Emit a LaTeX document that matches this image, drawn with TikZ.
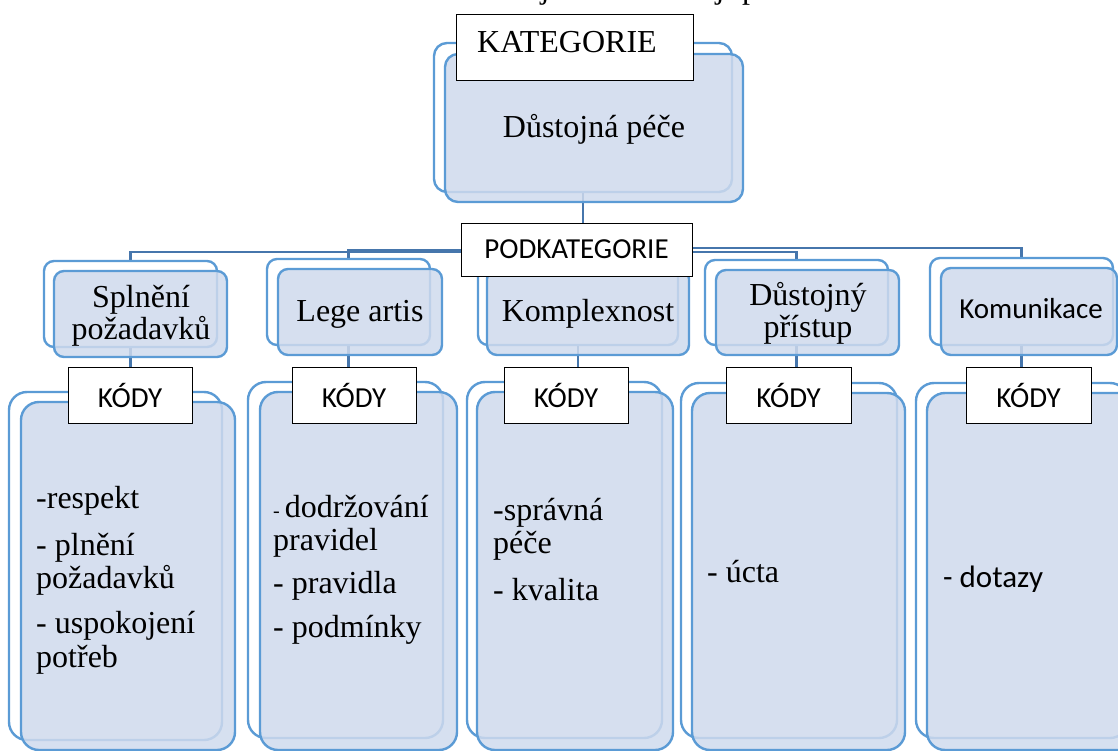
\documentclass[tikz,border=0pt]{standalone}
\usepackage{fontspec}
\setmainfont{Liberation Serif}
\newfontfamily\calfont{Carlito}
\usetikzlibrary{fit}

\pgfdeclarelayer{links}
\pgfsetlayers{links,main}

\definecolor{boxline}{RGB}{91,155,213}
\definecolor{boxfill}{RGB}{207,218,237}
\definecolor{linkline}{RGB}{70,118,172}

\tikzset{
  backbox/.style={draw=boxline, line width=2.4pt, fill=white, rounded corners=#1, inner sep=0pt},
  backbox/.default=10pt,
  frontbox/.style={draw=boxline, line width=2.4pt, fill=boxfill, fill opacity=0.85,
                   text opacity=1, rounded corners=#1, inner sep=0pt},
  frontbox/.default=10pt,
  tagbox/.style={draw=black, line width=0.9pt, fill=white, inner sep=0pt},
  link/.style={draw=linkline, line width=2.4pt},
  serif/.style={font=\fontsize{32}{34}\selectfont, inner sep=0pt},
  sans/.style={font=\calfont\fontsize{29}{31}\selectfont, inner sep=0pt},
}

\begin{document}
\begin{tikzpicture}[x=1pt, y=-1pt]
\useasboundingbox (0,0) rectangle (1118,751);
\begin{scope}
\clip (0,0) rectangle (1118,751);

% tails of the caption line above the chart
\node[serif, anchor=base] (capA) at (545,-1) {j};
\node[serif, anchor=base] (capB) at (720,-1) {j};
\node[serif, anchor=base] (capC) at (750,-1) {p};

% ---------- back layers ----------
\node[backbox=13pt, fit={(434,43) (732,192)}] (catB) {};

\node[backbox, fit={(44,261) (217,347)}]   (b1) {};
\node[backbox, fit={(267,259) (430,345)}]  (b2) {};
\node[backbox, fit={(478,259) (678,345)}]  (b3) {};
\node[backbox, fit={(705,260) (888,345)}]  (b4) {};
\node[backbox, fit={(930,258) (1113,345)}] (b5) {};

\node[backbox=18pt, fit={(9,392) (222,740)}]    (c1) {};
\node[backbox=18pt, fit={(248,382) (443,738)}]  (c2) {};
\node[backbox=18pt, fit={(467,382) (662,738)}]  (c3) {};
\node[backbox=18pt, fit={(681,383) (897,738)}]  (c4) {};
\node[backbox=18pt, fit={(916,383) (1128,738)}] (c5) {};

% ---------- front layers (translucent) ----------
\node[frontbox=13pt, fit={(445,54) (743,202)}] (catF) {};

\node[frontbox, fit={(54,271) (227,357)}]   (f1) {};
\node[frontbox, fit={(278,269) (442,355)}]  (f2) {};
\node[frontbox, fit={(487,269) (689,355)}]  (f3) {};
\node[frontbox, fit={(716,270) (899,355)}]  (f4) {};
\node[frontbox, fit={(941,268) (1117,355)}] (f5) {};

\node[frontbox=18pt, fit={(21,402) (235,750)}]   (g1) {};
\node[frontbox=18pt, fit={(260,392) (457,750)}]  (g2) {};
\node[frontbox=18pt, fit={(477,392) (673,750)}]  (g3) {};
\node[frontbox=18pt, fit={(692,393) (905,750)}]  (g4) {};
\node[frontbox=18pt, fit={(927,393) (1140,750)}] (g5) {};

% ---------- label boxes ----------
\node[tagbox, fit={(456,14) (693,80)}] (kat) {};
\node[serif, anchor=base west] (katT) at (477,53) {KATEGORIE};

\node[tagbox, fit={(461,223) (692,276)}] (podk) {};
\node[sans] (podkT) at (podk.center) {PODKATEGORIE};

\node[tagbox, fit={(68,367) (192,423)}]   (k1) {};
\node[tagbox, fit={(292,367) (416,423)}]  (k2) {};
\node[tagbox, fit={(504,367) (628,423)}]  (k3) {};
\node[tagbox, fit={(726,367) (851,423)}]  (k4) {};
\node[tagbox, fit={(966,367) (1091,423)}] (k5) {};
\foreach \k in {1,...,5}{
  \node[sans] (kT\k) at (k\k.center) {KÓDY};
}

% ---------- connectors, underneath all boxes ----------
\begin{pgfonlayer}{links}
\draw[link] (catB.south) -- (catB.south |- podk.north);
\draw[link] ([yshift=-2.5pt]podk.center) -| (b1.north);
\draw[link] ([yshift=-0.5pt]podk.center) -| (b2.north);
\draw[link] (podk.center -| b3.north) -- (b3.north);
\draw[link] ([yshift=-2.5pt]podk.center) -| (b4.north);
\draw[link] ([yshift=1.5pt]podk.center) -| (b5.north);
\foreach \k in {1,...,5}{
  \draw[link] (b\k.south) -- (b\k.south |- k\k.north);
}
\end{pgfonlayer}

% ---------- texts ----------
\node[serif, anchor=base] (catT) at (594,138) {Důstojná péče};

\node[serif, anchor=base] (s1a) at (141,307) {Splnění};
\node[serif, anchor=base] (s1b) at (141,339) {požadavků};
\node[serif, anchor=base] (s2)  at (360,321) {Lege artis};
\node[serif, anchor=base] (s3)  at (588,321) {Komplexnost};
\node[serif, anchor=base] (s4a) at (808,305) {Důstojný};
\node[serif, anchor=base] (s4b) at (808,337) {přístup};
\node[sans,  anchor=base] (s5)  at (1031,318) {Komunikace};

\node[serif, anchor=base west] (t1a) at (36,508) {-respekt};
\node[serif, anchor=base west] (t1b) at (36,555) {- plnění};
\node[serif, anchor=base west] (t1c) at (36,588) {požadavků};
\node[serif, anchor=base west] (t1d) at (36,633) {- uspokojení};
\node[serif, anchor=base west] (t1e) at (36,667) {potřeb};

\node[serif, anchor=base west] (t2a) at (273,517) {{\fontsize{20}{20}\selectfont- }dodržování};
\node[serif, anchor=base west] (t2b) at (273,550) {pravidel};
\node[serif, anchor=base west] (t2c) at (273,593) {- pravidla};
\node[serif, anchor=base west] (t2d) at (273,637) {- podmínky};

\node[serif, anchor=base west] (t3a) at (493,520) {-správná};
\node[serif, anchor=base west] (t3b) at (493,553) {péče};
\node[serif, anchor=base west] (t3c) at (493,600) {- kvalita};

\node[serif, anchor=base west] (t4a) at (707,582) {- úcta};

\node[font=\calfont\fontsize{31}{33}\selectfont, inner sep=0pt, anchor=base west] (t5a) at (943,587) {- dotazy};
\end{scope}
\end{tikzpicture}
\end{document}
